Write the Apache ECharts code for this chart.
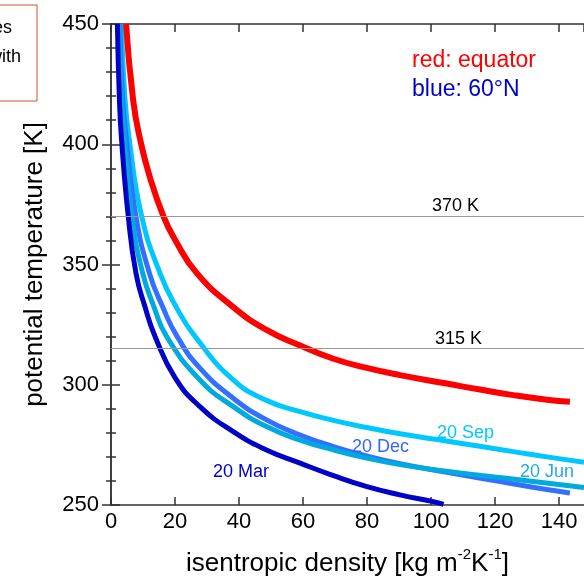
<!DOCTYPE html>
<html>
<head>
<meta charset="utf-8">
<script src="https://cdn.jsdelivr.net/npm/echarts@6/dist/echarts.min.js"></script>
<style>
html,body{margin:0;padding:0;background:#fff;}
#chart{width:584px;height:579px;}
</style>
</head>
<body>
<div id="chart"></div>
<script>
// ---- data (isentropic density [kg m-2 K-1], potential temperature [K]) ----
var xTicks = [0, 20, 40, 60, 80, 100, 120, 140];
var yTicks = [250, 300, 350, 400, 450];
var refLevels = [370, 315];
var refLabels = ['370 K', '315 K'];
var seriesNames = ['equator', '20 Sep', '20 Dec', '20 Jun', '20 Mar'];

var equator = [[4.7,450],[6.9,418.6],[9.1,402],[12.0,387],[16.4,370],[20.0,360.3],[26.8,346.4],[38.2,332.3],[48.6,322.8],[59.1,316.3],[69.5,310.8],[79.9,307],[90.3,304],[104.9,300.5],[115.3,298.0],[125.7,295.7],[136.2,293.8],[143.4,292.9]];
var sep = [[3.3,450],[4.3,420],[5.7,402],[9.6,370],[15.3,346.4],[20.3,332.5],[26.3,320],[38.2,302],[48.6,293.5],[59.1,288.8],[69.5,285.2],[79.9,282.2],[90.3,279.6],[101.9,277.2],[115.3,274.4],[125.7,272.2],[136.2,270.0],[147.8,267.8]];
var dec = [[2.8,450],[3.6,420],[4.8,402],[7.8,370],[12.0,346.4],[16.1,332.5],[20.7,320],[27.8,306.9],[38.2,294.4],[48.6,285.4],[59.1,279.1],[69.5,274.3],[79.9,270.4],[90.3,267.2],[104.9,263.6],[118.4,260.5],[130,257.8],[139.3,255.8],[143.4,255.0]];
var jun = [[2.4,450],[3.2,420],[4.2,402],[6.5,370],[9.9,346.4],[13.4,332.5],[17.4,320],[27.8,302],[38.2,290.9],[48.6,282.6],[59.1,277],[69.5,272.9],[79.9,269.5],[90.3,266.8],[104.9,264.0],[118.4,261.9],[130,260.1],[139.3,258.6],[147.8,257.3]];
var mar = [[2.0,450],[2.6,420],[3.3,402],[5.4,370],[7.8,346.4],[10.6,332.5],[13.8,320],[20,303],[27.8,290.9],[38.2,280.5],[48.6,272.9],[59.1,267.4],[69.5,262.2],[80,257.6],[90.3,254.2],[100.7,251.4],[103.9,250.3]];

var FONT = '"Liberation Sans", Arial, Helvetica, sans-serif';
var chart = echarts.init(document.getElementById('chart'), null, {renderer: 'canvas'});

function lineSeries(name, data, color, width, extra) {
  var s = {
    name: name, type: 'line', data: data, smooth: 0.5,
    showSymbol: false, symbol: 'none',
    lineStyle: {color: color, width: width}, z: 3, animation: false,
    xAxisIndex: 0, yAxisIndex: 0
  };
  if (extra) for (var k in extra) s[k] = extra[k];
  return s;
}

var axisLineStyle = {color: '#333', width: 1.5};

var option = {
  animation: false,
  grid: {left: 111, right: 0, top: 24, bottom: 74, containLabel: false, outerBoundsMode: 'none'},
  xAxis: [{
    type: 'value', min: 0, max: 147.8, interval: 20, position: 'bottom',
    axisLine: {show: true, lineStyle: axisLineStyle},
    axisTick: {show: true, inside: true, length: 8, lineStyle: axisLineStyle},
    axisLabel: {show: true, fontSize: 22, color: '#000', fontFamily: FONT, margin: 6, showMaxLabel: false},
    splitLine: {show: false},
    name: '{t|isentropic density [kg m}{s|-2}{t|K}{s|-1}{t|]}',
    nameLocation: 'middle', nameGap: 42,
    nameTextStyle: {
      fontFamily: FONT, color: '#000',
      rich: {
        t: {fontSize: 26, fontFamily: FONT, color: '#000', lineHeight: 30, verticalAlign: 'bottom'},
        s: {fontSize: 15, fontFamily: FONT, color: '#000', lineHeight: 30, verticalAlign: 'top'}
      }
    }
  }, {
    type: 'value', min: 0, max: 147.8, interval: 20, position: 'top',
    axisLine: {show: true, lineStyle: axisLineStyle},
    axisTick: {show: true, inside: true, length: 8, lineStyle: axisLineStyle},
    axisLabel: {show: false}, splitLine: {show: false}
  }],
  yAxis: [{
    type: 'value', min: 250, max: 450, interval: 50, position: 'left',
    axisLine: {show: true, lineStyle: axisLineStyle},
    axisTick: {show: true, inside: true, length: 9, lineStyle: axisLineStyle},
    minorTick: {show: true, splitNumber: 5, length: 5, lineStyle: axisLineStyle},
    axisLabel: {show: true, fontSize: 22, color: '#000', fontFamily: FONT, margin: 12, padding: [0, 0, 5, 0]},
    splitLine: {show: false},
    name: 'potential temperature [K]', nameLocation: 'middle', nameGap: 63, nameRotate: 90,
    nameTextStyle: {fontSize: 26, fontFamily: FONT, color: '#000'}
  }, {
    type: 'value', min: 250, max: 450, interval: 50, position: 'right',
    axisLine: {show: true, lineStyle: axisLineStyle},
    axisTick: {show: true, inside: true, length: 9, lineStyle: axisLineStyle},
    minorTick: {show: true, splitNumber: 5, length: 5, lineStyle: axisLineStyle},
    axisLabel: {show: false}, splitLine: {show: false}
  }],
  series: [
    lineSeries(seriesNames[1], sep, '#00c8ff', 5),
    lineSeries(seriesNames[2], dec, '#3370ff', 5),
    lineSeries(seriesNames[3], jun, '#00aadf', 5),
    lineSeries(seriesNames[4], mar, '#0000c8', 5),
    lineSeries(seriesNames[0], equator, '#ff0000', 6, {
      markLine: {
        silent: true, symbol: 'none', animation: false,
        lineStyle: {color: '#999', width: 1, type: 'solid'},
        label: {show: false},
        data: refLevels.map(function (v) { return {yAxis: v}; })
      }
    })
  ],
  graphic: [
    {type: 'rect', shape: {x: -10, y: 5, width: 47, height: 96}, style: {fill: 'none', stroke: '#e34a33', lineWidth: 1}, z: 10},
    {type: 'text', x: 12, y: 28, style: {text: 'lines', font: '18px ' + FONT, fill: '#000', textAlign: 'right', textVerticalAlign: 'middle'}, z: 10},
    {type: 'text', x: 21, y: 57, style: {text: 'with', font: '18px ' + FONT, fill: '#000', textAlign: 'right', textVerticalAlign: 'middle'}, z: 10},
    {type: 'text', x: 412, y: 61, style: {text: 'red: equator', font: '23px ' + FONT, fill: '#ff0000', textAlign: 'left', textVerticalAlign: 'middle'}, z: 10},
    {type: 'text', x: 412, y: 90, style: {text: 'blue: 60°N', font: '23px ' + FONT, fill: '#0000cc', textAlign: 'left', textVerticalAlign: 'middle'}, z: 10},
    {type: 'text', x: 432, y: 206, style: {text: refLabels[0], font: '18px ' + FONT, fill: '#000', textAlign: 'left', textVerticalAlign: 'middle'}, z: 10},
    {type: 'text', x: 435, y: 339, style: {text: refLabels[1], font: '18px ' + FONT, fill: '#000', textAlign: 'left', textVerticalAlign: 'middle'}, z: 10},
    {type: 'text', x: 437, y: 433, style: {text: seriesNames[1], font: '18px ' + FONT, fill: '#00c8ff', textAlign: 'left', textVerticalAlign: 'middle'}, z: 10},
    {type: 'text', x: 352, y: 447, style: {text: seriesNames[2], font: '18px ' + FONT, fill: '#3366ff', textAlign: 'left', textVerticalAlign: 'middle'}, z: 10},
    {type: 'text', x: 520, y: 472, style: {text: seriesNames[3], font: '18px ' + FONT, fill: '#22aaee', textAlign: 'left', textVerticalAlign: 'middle'}, z: 10},
    {type: 'text', x: 213, y: 472, style: {text: seriesNames[4], font: '18px ' + FONT, fill: '#0000cc', textAlign: 'left', textVerticalAlign: 'middle'}, z: 10}
  ]
};
chart.setOption(option);
</script>
</body>
</html>
